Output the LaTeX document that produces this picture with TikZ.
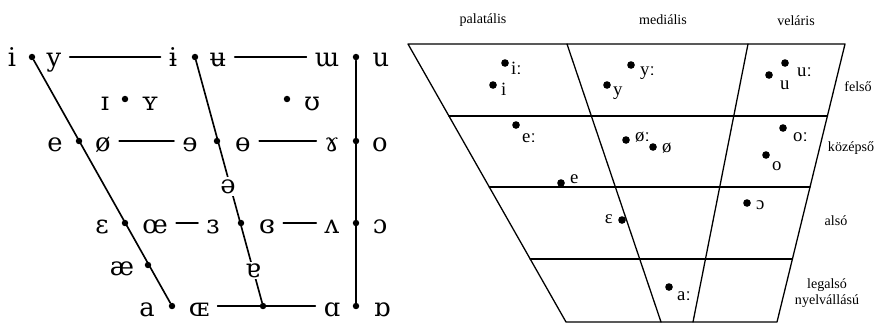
\documentclass[tikz,border=0pt]{standalone}
\usepackage{fontspec}
\setmainfont{Liberation Serif}
\newfontfamily\ipafont{DejaVu Serif}
\usetikzlibrary{calc}
\begin{document}
\begin{tikzpicture}[x=0.03cm, y=-0.03cm, line join=round, line cap=round,
	vdot/.style={circle, fill, inner sep=0pt, minimum size=5.5pt},
	hdot/.style={circle, fill, inner sep=0pt, minimum size=6.5pt},
	ipa/.style={font=\ipafont\fontsize{22}{22}\selectfont, inner xsep=7pt, inner ysep=0pt, anchor=base},
	hu/.style={font=\fontsize{16}{16}\selectfont, inner sep=0pt, anchor=base west},
	head/.style={font=\fontsize{12}{14}\selectfont, inner sep=0pt, align=center},
	vline/.style={line width=1.4pt},
	hline/.style={line width=1.1pt}]
	\useasboundingbox (0,0) rectangle (876,324);
	% IPA vowel chart
	\foreach \n/\x/\y in {d11/32/57, d12/195/57, d13/356/57,
		d21/79/141, d22/217/141, d23/356/141,
		d31/125/223, d32/241/223, d33/356/223,
		d41/172/306, d42/263/306, d43/356/306,
		dnf/125/99, dnb/287/99, dae/148/265}
		\node[vdot] (\n) at (\x,\y) {};
	\foreach \n/\x/\y/\t in {li/12/66/i, ly/54/66/y, libar/173/66/ɨ, lubar/218/66/ʉ, lw/327/66/ɯ, lu/381/66/u,
		lnI/105/110/ɪ, lnY/150/110/ʏ, lnU/312/110/ʊ,
		le/55/151/e, lo/103/151/ø, lrev/190/151/ɘ, lobar/243/151/ɵ, lgam/332/151/ɤ, lob/380/151/o,
		leps/102/233/ɛ, loe/155/233/œ, lrep/213/233/ɜ, lcep/267/233/ɞ, lv/332/233/ʌ, lop/380/233/ɔ,
		lae/122/275/æ,
		la/147/316/a, lOE/199/316/ɶ, lA/332/316/ɑ, lAr/382/316/ɒ}
		\node[ipa] (\n) at (\x,\y) {\t};
	\draw[vline] (d11) -- (d41);
	\draw[vline] (d12) -- (d42);
	\draw[vline] (d13) -- (d43);
	\draw[vline] (ly.east |- d11) -- (libar.west |- d11);
	\draw[vline] (lubar.east |- d11) -- (lw.west |- d11);
	\draw[vline] (lo.east |- d21) -- (lrev.west |- d21);
	\draw[vline] (lobar.east |- d21) -- (lgam.west |- d21);
	\draw[vline] (loe.east |- d31) -- (lrep.west |- d31);
	\draw[vline] (lcep.east |- d31) -- (lv.west |- d31);
	\draw[vline] (lOE.east |- d41) -- (lA.west |- d41);
	\node[ipa, fill=white, inner sep=2pt] (lschwa) at (228,193) {ə};
	\node[ipa, fill=white, inner sep=1pt] (lturna) at (253,277) {ɐ};
	% magyar magánhangzók
	\coordinate (tl) at (408,44);
	\coordinate (tr) at (845,44);
	\coordinate (bl) at (566,322);
	\coordinate (br) at (777,322);
	\coordinate (m1t) at (567,44);
	\coordinate (m1b) at (661,322);
	\coordinate (m2t) at (748,44);
	\coordinate (m2b) at (693,322);
	\draw[hline] (tl) -- (tr) -- (br) -- (bl) -- cycle;
	\draw[hline] (m1t) -- (m1b) (m2t) -- (m2b);
	\foreach \t in {0.259,0.514,0.773}
		\draw[hline] ($(tl)!\t!(bl)$) -- ($(tr)!\t!(br)$);
	\node[head] (hpal) at (483,20) {palatális};
	\node[head] (hmed) at (663,20) {mediális};
	\node[head] (hvel) at (796,21) {veláris};
	\node[head] (hfel) at (858,87) {felső};
	\node[head] (hkoz) at (851,148) {középső};
	\node[head] (hals) at (836,221) {alsó};
	\node[head] (hleg) at (827,293) {legalsó\\nyelvállású};
	\foreach \n/\x/\y/\lx/\ly/\t in {hi1/505/63/511/74/iː, hi2/493/85/501/95/i,
		hy1/631/65/640/75/yː, hy2/607/85/613/95/y,
		he1/516/125/522/142/eː, hoe1/626/140/635/141/øː, hoe2/653/147/662/152/ø,
		hu1/785/63/797/76/uː, hu2/769/75/780/89/u,
		ho1/783/128/793/141/oː, ho2/766/155/772/170/o,
		he2/561/183/570/183/e, hop/747/203/756/209/ɔ, ha1/669/287/677/300/aː}
		{\node[hdot] (\n) at (\x,\y) {};
		\node[hu] (\n t) at (\lx,\ly) {\t};}
	\node[hdot] (heps) at (622,220) {};
	\node[hu, anchor=base east] (heps t) at (613,223) {ɛ};
\end{tikzpicture}
\end{document}
